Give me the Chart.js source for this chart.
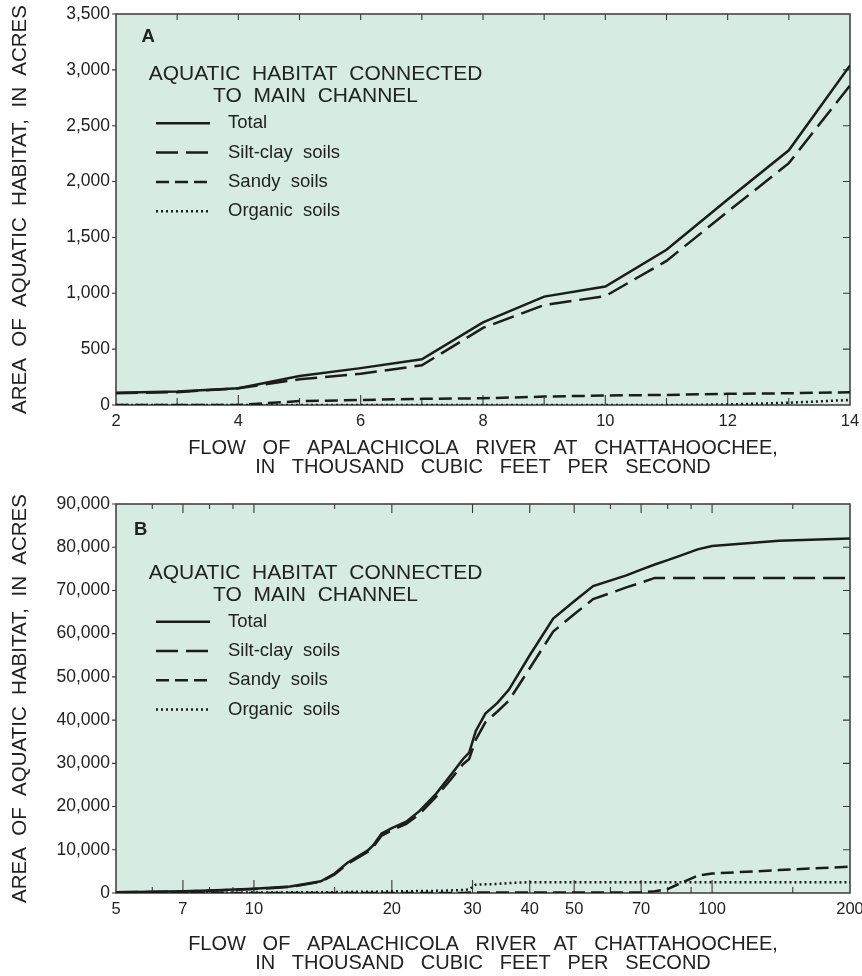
<!DOCTYPE html>
<html>
<head>
<meta charset="utf-8">
<title>Aquatic habitat connected to main channel</title>
<script src="https://cdn.jsdelivr.net/npm/chart.js@4.4.1/dist/chart.umd.min.js"></script>
<style>
  html, body { margin: 0; padding: 0; background: #fff; }
  canvas { display: block; }
</style>
</head>
<body>
<canvas id="chartA" width="862" height="488"></canvas>
<canvas id="chartB" width="862" height="488"></canvas>
<script>
// -------- Data ----------
// Panel A: flow 2-14 thousand ft3/s
const flowA    = [2, 3, 4, 5, 6, 7, 8, 9, 10, 11, 12, 13, 14];
const totalA   = [110, 120, 150, 260, 330, 410, 740, 970, 1060, 1390, 1840, 2280, 3040];
const siltA    = [105, 115, 150, 230, 280, 355, 690, 895, 975, 1290, 1730, 2165, 2860];
const sandyA   = [0, 0, 0, 35, 45, 55, 60, 75, 85, 90, 100, 105, 115];
const organicA = [0, 0, 0, 0, 0, 0, 0, 0, 0, 0, 5, 20, 45];
const ticksA   = [2, 3, 4, 5, 6, 7, 8, 9, 10, 11, 12, 13, 14];
const labelsA  = [2, 4, 6, 8, 10, 12, 14];

// Panel B: flow 5-200 thousand ft3/s (log axis)
const flowB    = [5, 7, 8, 10, 12, 14, 15, 16, 17.7, 18.2, 19, 20, 21.5, 23, 25, 27, 28.6, 29.5, 30.5, 32, 34, 36, 40, 45, 50, 55, 65, 70, 75, 80, 85, 93, 100, 140, 200];
const totalB   = [200, 400, 600, 1000, 1500, 2700, 4500, 7000, 9800, 11000, 13800, 15000, 16500, 19000, 23000, 27500, 31000, 32500, 37500, 41500, 44000, 47000, 55000, 63500, 67500, 71000, 73500, 74800, 76000, 77000, 78000, 79500, 80300, 81500, 82000];
const siltB    = [150, 350, 500, 900, 1400, 2600, 4300, 6700, 9500, 10600, 13300, 14500, 16000, 18300, 22300, 26500, 29800, 31000, 35500, 39500, 42000, 44500, 52000, 60500, 64500, 68000, 70700, 71800, 72900, 72900, 72900, 72900, 72900, 72900, 72900];
const sandyB   = [0, 0, 0, 0, 0, 0, 0, 0, 0, 0, 0, 0, 0, 0, 0, 0, 0, 100, 100, 100, 100, 100, 100, 100, 100, 100, 100, 200, 400, 900, 2200, 4000, 4500, 5300, 6100];
const organicB = [0, 0, 50, 100, 150, 200, 200, 250, 300, 300, 350, 400, 400, 450, 500, 600, 700, 850, 1900, 2000, 2100, 2300, 2500, 2500, 2500, 2500, 2500, 2500, 2500, 2500, 2500, 2500, 2500, 2500, 2500];
const ticksB   = [5, 6, 7, 8, 9, 10, 15, 20, 30, 40, 50, 60, 70, 80, 90, 100, 150, 200];
const labelsB  = [5, 7, 10, 20, 30, 40, 50, 70, 100, 200];

const seriesNames = ["Total", "Silt-clay  soils", "Sandy  soils", "Organic  soils"];
const legendTitle = ["AQUATIC  HABITAT  CONNECTED", "TO  MAIN  CHANNEL"];
const xTitle = ["FLOW   OF   APALACHICOLA   RIVER   AT   CHATTAHOOCHEE,", "IN   THOUSAND   CUBIC   FEET   PER   SECOND"];
const yTitle = "AREA  OF  AQUATIC  HABITAT,  IN  ACRES";

// -------- Styles ----------
const FONT = "'Liberation Sans', Arial, Helvetica, sans-serif";
const INK = "#222";
const LINE = "#1c1c1c";
const PLOT_BG = "#d6ebe2";
const FRAME = "#3a3a3a";
const DASHES = [[], [22, 8], [13, 6], [2, 3]];

// -------- Plugin: plot background, frame, inward ticks, legend ----------
const panelPlugin = {
  id: "panel",
  beforeDraw(chart) {
    const { ctx, chartArea: a } = chart;
    ctx.save();
    ctx.fillStyle = PLOT_BG;
    ctx.fillRect(a.left, a.top, a.right - a.left, a.bottom - a.top);
    ctx.restore();
  },
  beforeDatasetsDraw(chart, args, o) {
    const { ctx, chartArea: a, scales: { x, y } } = chart;
    ctx.save();
    ctx.strokeStyle = FRAME;
    ctx.lineWidth = 1.5;
    ctx.strokeRect(a.left, a.top, a.right - a.left, a.bottom - a.top);
    ctx.lineWidth = 1.1;
    ctx.beginPath();
    x.ticks.forEach(t => {
      const px = x.getPixelForValue(t.value);
      if (px <= a.left + 1 || px >= a.right - 1) return;
      const major = o.labeled.includes(t.value);
      ctx.moveTo(px, a.bottom);
      ctx.lineTo(px, a.bottom - (major ? o.tickBottom[0] : o.tickBottom[1]));
      ctx.moveTo(px, a.top);
      ctx.lineTo(px, a.top + (major ? o.tickTop[0] : o.tickTop[1]));
    });
    y.ticks.forEach(t => {
      const py = y.getPixelForValue(t.value);
      ctx.moveTo(a.left - 4, py);
      ctx.lineTo(a.left, py);
      if (py > a.top + 1 && py < a.bottom - 1) {
        ctx.moveTo(a.right, py);
        ctx.lineTo(a.right - 7, py);
      }
    });
    ctx.stroke();
    ctx.restore();
  },
  afterDatasetsDraw(chart, args, o) {
    const { ctx } = chart;
    ctx.save();
    ctx.fillStyle = INK;
    ctx.textBaseline = "middle";
    ctx.font = `bold 18.5px ${FONT}`;
    ctx.fillText(o.letter, o.letterX, o.letterY);

    ctx.font = `21px ${FONT}`;
    ctx.textAlign = "center";
    ctx.fillText(legendTitle[0], 315.5, o.titleY);
    ctx.fillText(legendTitle[1], 315.5, o.titleY + 22.4);

    ctx.textAlign = "left";
    ctx.font = `18.5px ${FONT}`;
    chart.data.datasets.forEach((ds, i) => {
      const ry = o.rowY + i * 29.3;
      ctx.strokeStyle = ds.borderColor;
      ctx.lineWidth = ds.borderWidth;
      ctx.setLineDash(ds.borderDash);
      ctx.beginPath();
      ctx.moveTo(156, ry);
      ctx.lineTo(210, ry);
      ctx.stroke();
      ctx.setLineDash([]);
      ctx.fillText(ds.label, 228, ry);
    });
    ctx.restore();
  }
};

// -------- Builders ----------
function pairs(xs, ys) {
  return xs.map((v, i) => ({ x: v, y: ys[i] }));
}

function makeDatasets(xs, lists) {
  return lists.map((ys, i) => ({
    label: seriesNames[i],
    data: pairs(xs, ys),
    borderColor: LINE,
    borderWidth: 2.5,
    borderDash: DASHES[i],
    borderCapStyle: "butt",
    pointRadius: 0,
    tension: 0,
    fill: false
  }));
}

function makeChart(id, cfg) {
  return new Chart(document.getElementById(id), {
    type: "line",
    data: { datasets: makeDatasets(cfg.flow, cfg.series) },
    plugins: [panelPlugin],
    options: {
      responsive: false,
      animation: false,
      devicePixelRatio: 1,
      layout: { padding: { top: cfg.padTop, right: 12, left: 0, bottom: 0 } },
      plugins: {
        legend: { display: false },
        tooltip: { enabled: false },
        panel: cfg.panel
      },
      scales: {
        x: {
          type: cfg.xType,
          min: cfg.xMin,
          max: cfg.xMax,
          afterBuildTicks: s => { s.ticks = cfg.ticks.map(v => ({ value: v })); },
          afterFit: s => { s.height = 83; s.paddingLeft = 0; s.paddingRight = 0; },
          grid: { display: false, drawTicks: false },
          border: { display: false },
          ticks: {
            autoSkip: false, maxRotation: 0, padding: 7, color: INK,
            font: { family: FONT, size: 16.5 },
            callback: v => cfg.panel.labeled.includes(v) ? String(v) : ""
          },
          title: {
            display: true, text: xTitle, color: INK,
            font: { family: FONT, size: 20, lineHeight: 0.93 },
            padding: { top: 0, bottom: cfg.xTitlePad }
          }
        },
        y: {
          min: 0,
          max: cfg.yMax,
          afterFit: s => { s.width = 116; s.paddingTop = 0; s.paddingBottom = 0; },
          grid: { display: false, drawTicks: false },
          border: { display: false },
          ticks: {
            stepSize: cfg.yStep, padding: 6, color: INK,
            font: { family: FONT, size: 17.5 },
            callback: v => v.toLocaleString("en-US")
          },
          title: {
            display: true, text: yTitle, color: INK,
            font: { family: FONT, size: 20.5 },
            padding: { top: 8.2, bottom: 0 }
          }
        }
      }
    }
  });
}

// -------- Init ----------
makeChart("chartA", {
  flow: flowA,
  series: [totalA, siltA, sandyA, organicA],
  xType: "linear", xMin: 2, xMax: 14, ticks: ticksA,
  yMax: 3500, yStep: 500, padTop: 14, xTitlePad: 11.7,
  panel: { letter: "A", letterX: 141.5, letterY: 37, titleY: 74.3, rowY: 123.3,
           labeled: labelsA, tickBottom: [10, 7], tickTop: [6, 6] }
});

makeChart("chartB", {
  flow: flowB,
  series: [totalB, siltB, sandyB, organicB],
  xType: "logarithmic", xMin: 5, xMax: 200, ticks: ticksB,
  yMax: 90000, yStep: 10000, padTop: 16, xTitlePad: 3.7,
  panel: { letter: "B", letterX: 134, letterY: 42, titleY: 85, rowY: 133.7,
           labeled: labelsB, tickBottom: [13, 6], tickTop: [9, 5] }
});
</script>
</body>
</html>
